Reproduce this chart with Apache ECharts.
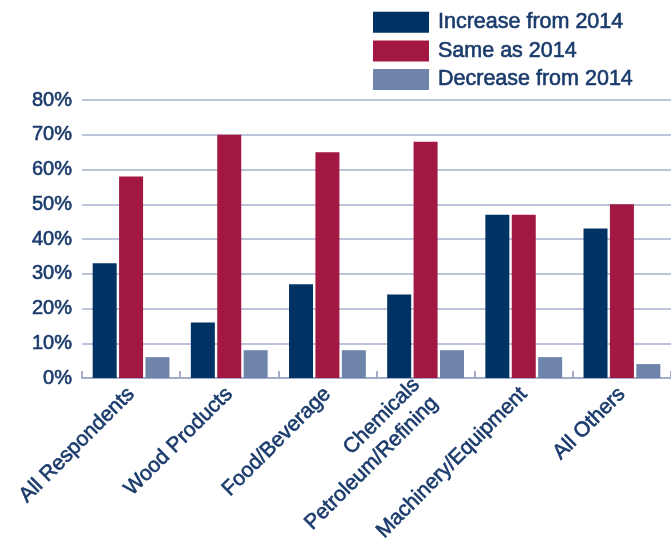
<!DOCTYPE html>
<html>
<head>
<meta charset="utf-8">
<script src="https://cdn.jsdelivr.net/npm/echarts@6/dist/echarts.min.js"></script>
<style>
	html, body { margin: 0; padding: 0; background: #fff; }
	#chart { width: 671px; height: 547px; }
</style>
</head>
<body>
<div id="chart"></div>
<script>
	// categories and values (percent)
	var categories = ['All Respondents', 'Wood Products', 'Food/Beverage', 'Chemicals\nPetroleum/Refining', 'Machinery/Equipment', 'All Others'];
	var increaseList = [33, 16, 27, 24, 47, 43];
	var sameList = [58, 70, 65, 68, 47, 50];
	var decreaseList = [6, 8, 8, 8, 6, 4];
	var yTicks = [0, 10, 20, 30, 40, 50, 60, 70, 80];

	var textColor = '#1a3b6c';
	// the reference text is a touch heavier than regular weight
	var textBold = { textBorderColor: textColor, textBorderWidth: 0.6 };
	var chart = echarts.init(document.getElementById('chart'));
	var option = {
		animation: false,
		textStyle: {
			fontFamily: 'Liberation Sans, Arial, sans-serif'
		},
		legend: {
			orient: 'vertical',
			left: 368,
			top: 6,
			itemWidth: 56,
			itemHeight: 21,
			itemGap: 6,
			icon: 'rect',
			textStyle: Object.assign({
				color: textColor,
				fontSize: 21.5,
				padding: [0, 0, 0, 4]
			}, textBold),
			data: ['Increase from 2014', 'Same as 2014', 'Decrease from 2014']
		},
		grid: {
			left: 82,
			right: -6,
			top: 100,
			bottom: 169
		},
		xAxis: {
			type: 'category',
			data: categories,
			axisLine: {
				lineStyle: {
					color: '#a3adcb',
					width: 2
				}
			},
			axisTick: {
				show: true,
				inside: true,
				length: 7,
				lineStyle: {
					color: '#a3adcb',
					width: 2
				}
			},
			axisLabel: Object.assign({
				interval: 0,
				rotate: 45,
				margin: 13,
				color: textColor,
				fontSize: 21,
				lineHeight: 26
			}, textBold)
		},
		yAxis: {
			type: 'value',
			min: yTicks[0],
			max: yTicks[yTicks.length - 1],
			interval: 10,
			axisLine: { show: false },
			axisTick: { show: false },
			axisLabel: Object.assign({
				margin: 10,
				color: textColor,
				fontSize: 20,
				formatter: '{value}%'
			}, textBold),
			splitLine: {
				lineStyle: {
					color: '#bcc4dc',
					width: 2
				}
			}
		},
		series: [{
			name: 'Increase from 2014',
			type: 'bar',
			data: increaseList,
			barWidth: 24,
			barGap: '10%',
			itemStyle: { color: '#003264' }
		}, {
			name: 'Same as 2014',
			type: 'bar',
			data: sameList,
			barWidth: 24,
			barGap: '10%',
			itemStyle: { color: '#a31842' }
		}, {
			name: 'Decrease from 2014',
			type: 'bar',
			data: decreaseList,
			barWidth: 24,
			barGap: '10%',
			itemStyle: { color: '#6e84ab' }
		}]
	};
	chart.setOption(option);
</script>
</body>
</html>
